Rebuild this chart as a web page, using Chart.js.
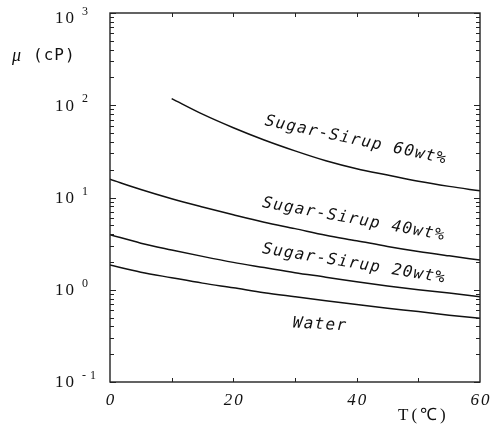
<!DOCTYPE html>
<html>
<head>
<meta charset="utf-8">
<script src="https://cdn.jsdelivr.net/npm/chart.js@4/dist/chart.umd.min.js"></script>
<style>
  html, body { margin: 0; padding: 0; background: #fff; }
  #wrap { width: 493px; height: 429px; }
</style>
</head>
<body>
<div id="wrap"><canvas id="viscosity-chart" width="493" height="429"></canvas></div>
<script>
// Viscosity of water and sugar syrups vs temperature
var temps = [0, 5, 10, 15, 20, 25, 30, 35, 40, 45, 50, 55, 60];
var water = [1.85, 1.55, 1.35, 1.18, 1.05, 0.93, 0.84, 0.76, 0.69, 0.63, 0.58, 0.53, 0.49];
var sirup20 = [3.95, 3.2, 2.7, 2.3, 1.98, 1.74, 1.53, 1.37, 1.22, 1.1, 1.0, 0.92, 0.84];
var sirup40 = [15.8, 12.2, 9.7, 7.9, 6.5, 5.4, 4.6, 3.9, 3.4, 2.95, 2.6, 2.33, 2.1];
var sirup60 = [null, null, 118, 80, 57, 42, 32, 25, 20.5, 17.5, 15, 13.2, 11.8];

var yDecades = [0.1, 1, 10, 100, 1000];
var yExponents = ['-1', '0', '1', '2', '3'];
var xTicks = [10, 20, 30, 40, 50];
var xTickLabels = [0, 20, 40, 60];

// curve labels: text, anchor (T, mu) of the left baseline, angle in degrees
var curveLabels = [
  { text: 'Sugar-Sirup 60wt%', t: 25.0, mu: 61, angle: 12 },
  { text: 'Sugar-Sirup 40wt%', t: 24.6, mu: 7.9, angle: 10.3 },
  { text: 'Sugar-Sirup 20wt%', t: 24.6, mu: 2.5, angle: 9.2 },
  { text: 'Water', t: 29.6, mu: 0.39, angle: 3 }
];

function points(values) {
  var out = [];
  values.forEach(function (v, i) {
    if (v !== null) out.push({ x: temps[i], y: v });
  });
  return out;
}

function series(label, values) {
  return {
    label: label,
    data: points(values),
    borderColor: '#111',
    borderWidth: 1.5,
    pointRadius: 0,
    fill: false,
    cubicInterpolationMode: 'monotone'
  };
}

var framePlugin = {
  id: 'frame',
  afterDraw: function (chart) {
    var ctx = chart.ctx;
    var a = chart.chartArea;
    var xs = chart.scales.x;
    var ys = chart.scales.y;
    ctx.save();
    ctx.strokeStyle = '#222';
    ctx.lineWidth = 1.4;
    ctx.strokeRect(a.left, a.top, a.right - a.left, a.bottom - a.top);

    // log ticks on both sides, pointing inward
    ctx.lineWidth = 1;
    ctx.beginPath();
    yDecades.forEach(function (d) {
      for (var m = 1; m <= 9; m++) {
        var v = d * m;
        if (v > 1000) break;
        var y = Math.round(ys.getPixelForValue(v)) + 0.5;
        var len = m === 1 ? 6 : 4;
        ctx.moveTo(a.left, y); ctx.lineTo(a.left + len, y);
        ctx.moveTo(a.right, y); ctx.lineTo(a.right - len, y);
      }
    });
    xTicks.forEach(function (t) {
      var x = Math.round(xs.getPixelForValue(t)) + 0.5;
      ctx.moveTo(x, a.bottom); ctx.lineTo(x, a.bottom - 4);
      ctx.moveTo(x, a.top); ctx.lineTo(x, a.top + 4);
    });
    ctx.stroke();

    ctx.fillStyle = '#111';
    ctx.textBaseline = 'middle';

    // y tick labels: 10 with raised exponent
    yDecades.forEach(function (d, i) {
      var y = Math.max(ys.getPixelForValue(d), 18);
      ctx.font = '17px "Liberation Serif"';
      ctx.letterSpacing = '2px';
      ctx.textAlign = 'right';
      ctx.fillText('10', 76, y + 1);
      ctx.font = '12px "Liberation Serif"';
      ctx.letterSpacing = '4px';
      ctx.textAlign = 'left';
      ctx.fillText(yExponents[i], 82, y - 6);
    });

    // x tick labels
    ctx.font = 'italic 17px "Liberation Serif"';
    ctx.letterSpacing = '2px';
    ctx.textAlign = 'center';
    xTickLabels.forEach(function (t) {
      ctx.fillText(String(t), xs.getPixelForValue(t) + 1, 401);
    });

    // axis titles
    ctx.textAlign = 'left';
    ctx.font = '17px "Liberation Serif"';
    ctx.letterSpacing = '3px';
    ctx.fillText('T(\u2103)', 398, 416);
    ctx.font = 'italic 18px "Liberation Serif"';
    ctx.letterSpacing = '2px';
    ctx.fillText('\u03bc', 12, 56);
    ctx.font = '16px "DejaVu Sans Mono"';
    ctx.letterSpacing = '1px';
    ctx.fillText('(cP)', 33, 56);

    // curve labels
    ctx.font = 'italic 16px "DejaVu Sans Mono"';
    ctx.letterSpacing = '1.3px';
    ctx.textBaseline = 'alphabetic';
    curveLabels.forEach(function (l) {
      ctx.save();
      ctx.translate(xs.getPixelForValue(l.t), ys.getPixelForValue(l.mu));
      ctx.rotate(l.angle * Math.PI / 180);
      ctx.fillText(l.text, 0, 0);
      ctx.restore();
    });
    ctx.restore();
  }
};

var ctx = document.getElementById('viscosity-chart').getContext('2d');
new Chart(ctx, {
  type: 'line',
  data: {
    datasets: [
      series('Water', water),
      series('Sugar-Sirup 20wt%', sirup20),
      series('Sugar-Sirup 40wt%', sirup40),
      series('Sugar-Sirup 60wt%', sirup60)
    ]
  },
  options: {
    responsive: false,
    animation: false,
    layout: { padding: { left: 0, top: 13, right: 13, bottom: 0 } },
    plugins: { legend: { display: false }, tooltip: { enabled: false } },
    scales: {
      x: {
        type: 'linear', min: 0, max: 60,
        grid: { display: false }, border: { display: false },
        ticks: { display: false },
        afterFit: function (scale) { scale.height = 47; }
      },
      y: {
        type: 'logarithmic', min: 0.1, max: 1000,
        grid: { display: false }, border: { display: false },
        ticks: { display: false },
        afterFit: function (scale) { scale.width = 110; }
      }
    }
  },
  plugins: [framePlugin]
});
</script>
</body>
</html>
